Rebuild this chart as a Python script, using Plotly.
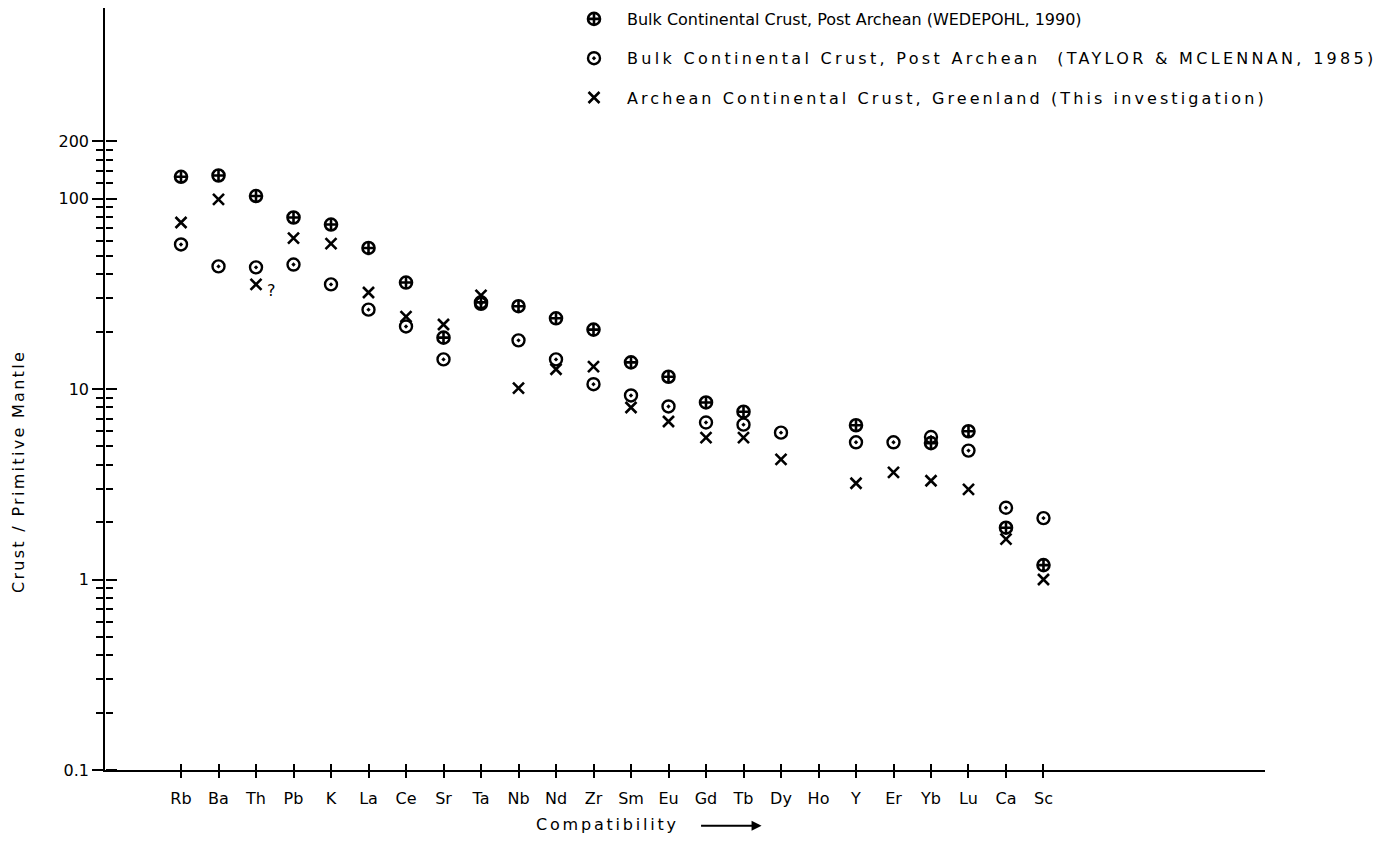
import plotly.graph_objects as go
import math

elements = ["Rb", "Ba", "Th", "Pb", "K", "La", "Ce", "Sr", "Ta", "Nb", "Nd", "Zr",
            "Sm", "Eu", "Gd", "Tb", "Dy", "Ho", "Y", "Er", "Yb", "Lu", "Ca", "Sc"]

wedepohl = [130, 132, 103, 79.5, 73, 55, 36.2, 18.6, 28.5, 27.2, 23.5, 20.5,
            13.8, 11.6, 8.5, 7.6, None, None, 6.45, None, 5.2, 6.0, 1.87, 1.19]

taylor = [57.4, 44, 43.5, 45, 35.4, 26.1, 21.3, 14.3, 28, 18, 14.3, 10.6,
          9.25, 8.1, 6.67, 6.5, 5.9, None, 5.25, 5.25, 5.6, 4.75, 2.38, 2.1]

archean = [74.8, 99, 35.4, 62, 58, 32.1, 24, 21.8, 31, 10.1, 12.7, 13.1,
           8.0, 6.75, 5.56, 5.56, 4.27, None, 3.2, 3.65, 3.3, 2.97, 1.63, 1.0]

y_major = [0.1, 1, 10, 100, 200]
y_major_text = ["0.1", "1", "10", "100", "200"]
y_minor = [0.2, 0.3, 0.4, 0.5, 0.6, 0.7, 0.8, 0.9,
           2, 3, 4, 5, 6, 7, 8, 9,
           20, 30, 40, 50, 60, 70, 80, 90,
           120, 140, 160, 180]

legend_names = [
    "Bulk Continental Crust, Post Archean (WEDEPOHL, 1990)",
    "<span style='letter-spacing:3.3px'>Bulk Continental Crust, Post Archean  (TAYLOR & MCLENNAN, 1985)</span>",
    "<span style='letter-spacing:3.1px'>Archean Continental Crust, Greenland (This investigation)</span>",
]

FONT = "DejaVu Sans"
xpos = list(range(len(elements)))

fig = go.Figure()

fig.add_trace(go.Scatter(
    x=xpos, y=wedepohl, mode="markers", name=legend_names[0], legendgroup="a",
    marker=dict(symbol="circle-cross", size=12, color="white",
                line=dict(color="black", width=2.6)),
))
fig.add_trace(go.Scatter(
    x=xpos, y=taylor, mode="markers", name=legend_names[1], legendgroup="b",
    marker=dict(symbol="circle-open-dot", size=12, color="black",
                line=dict(color="black", width=2.4)),
))
# third series lives on the twin axes (identical ranges) that carry the inner tick halves
fig.add_trace(go.Scatter(
    x=xpos, y=archean, mode="markers", name=legend_names[2], legendgroup="c",
    xaxis="x2", yaxis="y2",
    marker=dict(symbol="x-thin-open", size=11, color="black",
                line=dict(color="black", width=2.6)),
))

xrange = [-2.027, 28.907]
yrange = [-1, 3]

common_x = dict(range=xrange, tickmode="array", tickvals=xpos, showgrid=False,
                zeroline=False, ticklen=6, tickwidth=1.5, tickcolor="black",
                ticks="outside")
common_y = dict(type="log", range=yrange, tickmode="array", tickvals=y_major,
                showgrid=False, zeroline=False, ticklen=11, tickwidth=1.5,
                tickcolor="black", ticks="outside")
minor_y = dict(tickmode="array", tickvals=y_minor, ticklen=7, tickwidth=1.5,
               tickcolor="black", showgrid=False, ticks="outside")

fig.update_layout(
    width=1400, height=862,
    margin=dict(l=105, r=135, t=8, b=92, autoexpand=False),
    paper_bgcolor="white", plot_bgcolor="white",
    font=dict(family=FONT, size=16, color="black"),
    showlegend=True,
    legend=dict(x=0.3931, y=0.9977, xref="paper", yref="container",
                xanchor="left", yanchor="top",
                font=dict(family=FONT, size=16, color="black"),
                tracegroupgap=15.5, itemwidth=56, bgcolor="rgba(0,0,0,0)"),
    xaxis=dict(**common_x, ticktext=elements,
               showline=True, linecolor="black", linewidth=1.6,
               ticklabelstandoff=7,
               tickfont=dict(family=FONT, size=16, color="black")),
    xaxis2=dict(**common_x, overlaying="x", anchor="free", position=0,
                side="top", showticklabels=False, showline=False),
    yaxis=dict(**common_y, ticktext=y_major_text,
               showline=True, linecolor="black", linewidth=1.6,
               minor=minor_y,
               tickfont=dict(family=FONT, size=16, color="black")),
    yaxis2=dict(**common_y, overlaying="y", anchor="free", position=0,
                side="right", showticklabels=False, showline=False,
                minor=minor_y),
)

fig.add_annotation(x=2, y=math.log10(archean[2]), xref="x2", yref="y2",
                   text="?", showarrow=False, xshift=15, yshift=-6,
                   font=dict(family=FONT, size=16, color="black"))

fig.add_annotation(x=-0.075, y=0.391, xref="paper", yref="paper",
                   xanchor="center", yanchor="middle",
                   text="<span style='letter-spacing:2.3px'>Crust / Primitive Mantle</span>",
                   textangle=-90, showarrow=False,
                   font=dict(family=FONT, size=16, color="black"))

fig.add_annotation(x=0.4336, y=-0.0709, xref="paper", yref="paper",
                   xanchor="center", yanchor="middle",
                   text="<span style='letter-spacing:2.8px'>Compatibility</span>",
                   showarrow=False, font=dict(family=FONT, size=16, color="black"))
fig.add_annotation(x=0.566, y=-0.073, xref="paper", yref="paper", text="",
                   showarrow=True, ax=-62, ay=0, arrowhead=2, arrowsize=1,
                   arrowwidth=2, arrowcolor="black")

fig.write_html("out.html")
